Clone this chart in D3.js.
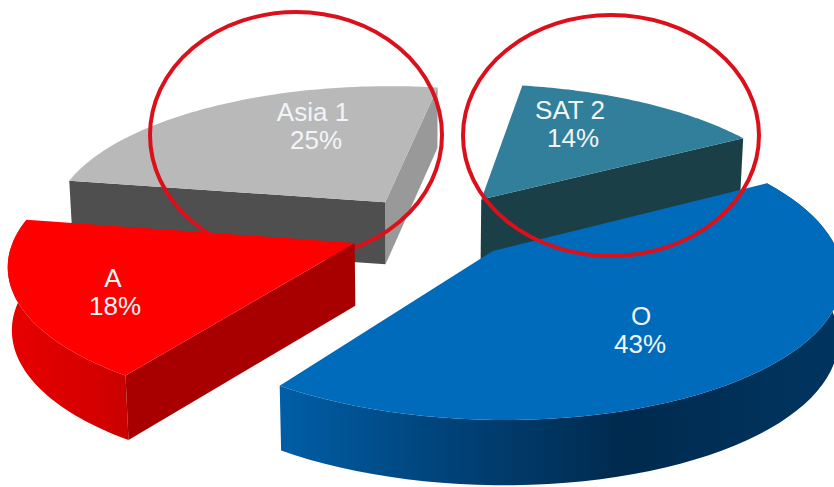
<!DOCTYPE html>
<html>
<head>
<meta charset="utf-8">
<script src="https://cdn.jsdelivr.net/npm/d3@7"></script>
<style>
html,body{margin:0;padding:0;background:#fff;overflow:hidden}
svg{display:block}
text{font-family:"Liberation Sans",Arial,sans-serif;font-size:26px;fill:#f2f5f7;text-anchor:middle}
</style>
</head>
<body>
<svg id="chart" width="834" height="487"></svg>
<script>
// ---- data ----
const categories = ["A", "Asia 1", "SAT 2", "O"];
const shares = [18, 25, 14, 43];

// ---- styles and layout ----
const topColors  = ["#ff0000", "#b9b9b9", "#327f9c", "#006bbb"];
const nearWall   = ["#a80000", "#4f4f4f", "#1b3f47", "#003a6b"];
const sideWall   = [null, "#999999", null, null];
const burst      = [[-0.218, -0.117], [-0.133, 0.18], [0.160, 0.20], [0.184, -0.173]];
const labelSpots = [[113, 287, 115, 315], [313, 121, 316, 149], [570, 119, 573, 147], [641, 325, 640, 353]];
const rings      = [[296, 135, 146, 123], [611, 135.5, 148, 120.5]];

const view = {cx: 420, horizon: -776, f: 2440, g: 7268, zMid: 7.25, xMid: 0.027, wallA: 48, wallB: 105, taper: 0.99};
const rad = Math.PI / 180;

const svg = d3.select("#chart");
const defs = svg.append("defs");
const gradient = (id, stops, x1, x2) => {
  const g = defs.append("linearGradient").attr("id", id)
    .attr("gradientUnits", "userSpaceOnUse")
    .attr("x1", x1).attr("x2", x2).attr("y1", 0).attr("y2", 0);
  stops.forEach(s => g.append("stop").attr("offset", s[0]).attr("stop-color", s[1]));
};
gradient("wallO", [[0, "#005ea6"], [0.3, "#004379"], [0.62, "#002a4e"], [1, "#003560"]], 280, 834);
gradient("wallA", [[0, "#e60000"], [0.7, "#d40000"], [1, "#c80000"]], 15, 133);

const wallFill = ["url(#wallA)", null, null, "url(#wallO)"];

// pie angles: 0 at north, clockwise; the pie is turned so that A starts lower-left
const pie = d3.pie().sort(null).value(d => d).startAngle(214.8 * rad).endAngle((214.8 + 360) * rad);
const arcs = pie(shares);

// perspective of a point on the pie's plane, relative to a slice's apex
const project = (i, angle, r) => {
  const t = angle - Math.PI / 2;
  const X = view.xMid + burst[i][0] + r * Math.cos(t);
  const Z = view.zMid + burst[i][1] - r * Math.sin(t);
  return {x: view.cx + view.f * X / Z, y: view.horizon + view.g / Z, z: Z};
};
const lower = p => [view.cx + (p.x - view.cx) * view.taper, p.y + view.wallA + view.wallB / p.z];
const upper = p => [p.x, p.y];

const line = d3.line().x(d => d[0]).y(d => d[1]);
const arcPts = (i, d) => d3.range(0, 61).map(k => project(i, d.startAngle + (d.endAngle - d.startAngle) * k / 60, 1));

function drawSlice(i) {
  const d = arcs[i];
  const g = svg.append("g");
  const apex = project(i, 0, 0);
  const pts = arcPts(i, d);
  // outer curved wall
  if (wallFill[i]) {
    g.append("path")
      .attr("d", line(pts.map(upper).concat(pts.slice().reverse().map(lower))) + "Z")
      .attr("fill", wallFill[i]);
  }
  // radial walls
  const radial = (p, fill) => g.append("path")
    .attr("d", line([upper(apex), upper(p), lower(p), lower(apex)]) + "Z")
    .attr("fill", fill);
  if (sideWall[i]) radial(pts[60], sideWall[i]);
  if (i === 0 || i === 1) radial(pts[0], nearWall[i]);
  if (i === 2) radial(pts[60], nearWall[i]);
  // top face
  g.append("path")
    .attr("d", line([upper(apex)].concat(pts.map(upper))) + "Z")
    .attr("fill", topColors[i]);
  // label
  const s = labelSpots[i];
  g.append("text").attr("x", s[0]).attr("y", s[1]).text(categories[i]);
  g.append("text").attr("x", s[2]).attr("y", s[3]).text(shares[i] + "%");
}

const ring = r => svg.append("ellipse")
  .attr("cx", r[0]).attr("cy", r[1]).attr("rx", r[2]).attr("ry", r[3])
  .attr("fill", "none").attr("stroke", "#dc101a").attr("stroke-width", 4);

drawSlice(1);
ring(rings[0]);
drawSlice(2);
drawSlice(0);
drawSlice(3);
ring(rings[1]);
</script>
</body>
</html>
